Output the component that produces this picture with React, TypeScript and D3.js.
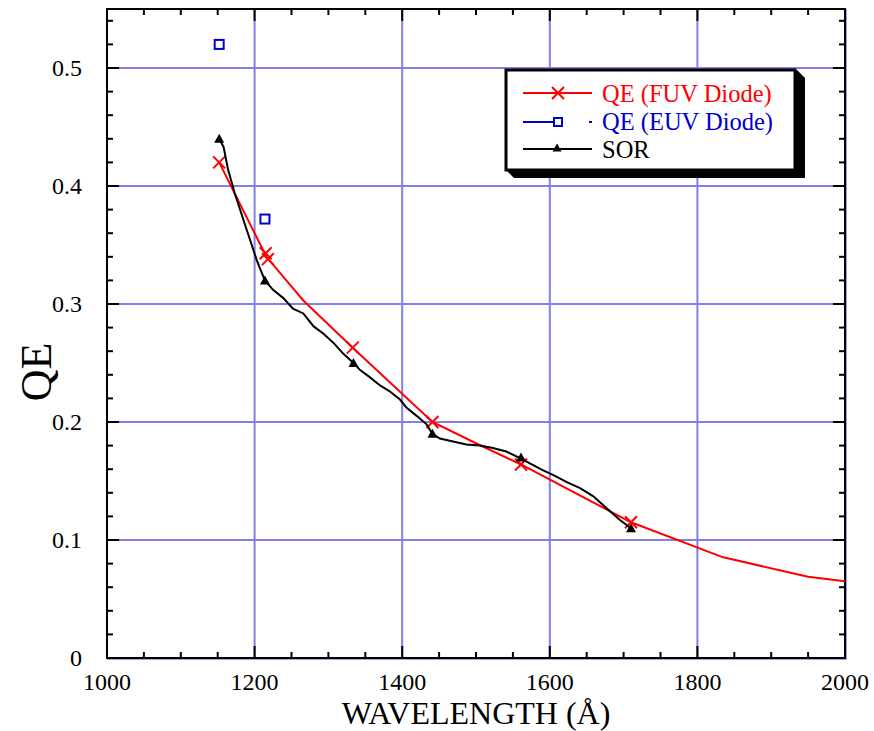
import React from 'react';
import * as d3 from 'd3';

// FUV diode markers
const fuvX = [1152, 1215, 1218, 1333, 1441, 1561, 1710];
const fuvY = [0.42, 0.343, 0.338, 0.263, 0.2, 0.164, 0.115];
// FUV diode curve
const fuvLineX = [1152, 1216, 1266, 1333, 1441, 1500, 1561, 1710, 1835, 1950, 2000];
const fuvLineY = [0.42, 0.34, 0.303, 0.263, 0.2, 0.182, 0.164, 0.115, 0.0853, 0.0689, 0.065];
// EUV diode points
const euvX = [1152, 1214];
const euvY = [0.52, 0.372];
// SOR curve
const sorX = [1152, 1158, 1164, 1173, 1185, 1194, 1203, 1210, 1214, 1225, 1239, 1252, 1266, 1280, 1293, 1307, 1320, 1334, 1343, 1356, 1370, 1383, 1397, 1406, 1420, 1433, 1441, 1451, 1469, 1487, 1505, 1523, 1541, 1561, 1573, 1591, 1605, 1623, 1641, 1659, 1677, 1695, 1710];
const sorY = [0.44, 0.433, 0.414, 0.394, 0.371, 0.354, 0.337, 0.326, 0.32, 0.312, 0.305, 0.296, 0.292, 0.281, 0.275, 0.267, 0.258, 0.25, 0.244, 0.238, 0.231, 0.226, 0.219, 0.212, 0.205, 0.198, 0.19, 0.186, 0.1835, 0.181, 0.18, 0.178, 0.175, 0.169, 0.165, 0.159, 0.155, 0.149, 0.144, 0.137, 0.127, 0.117, 0.11];
// SOR markers
const sorMarkX = [1152, 1214, 1334, 1441, 1561, 1710];
const sorMarkY = [0.44, 0.32, 0.25, 0.19, 0.17, 0.11];

const xTicks = [1000, 1200, 1400, 1600, 1800, 2000];
const yTicks = [0, 0.1, 0.2, 0.3, 0.4, 0.5];

const FONT = '"Liberation Serif", "Times New Roman", serif';
const GRID = '#8080e6';

export default function App() {
  const W = 874, H = 731;
  const left = 107, right = 845, top = 9, bottom = 658;

  const x = d3.scaleLinear().domain([1000, 2000]).range([left, right]);
  const y = d3.scaleLinear().domain([0, 0.55]).range([bottom, top]);

  const line = d3.line<[number, number]>().x(d => x(d[0])).y(d => y(d[1]));
  const fuvPath = line(fuvLineX.map((v, i) => [v, fuvLineY[i]]));
  const sorPath = line(sorX.map((v, i) => [v, sorY[i]]));

  const xMinor = d3.range(1050, 2000, 50).filter(v => v % 200 !== 0);
  const yMinor = d3.range(0.02, 0.55, 0.02).filter(v => Math.abs(v * 10 - Math.round(v * 10)) > 0.01);

  const cross = (cx: number, cy: number, s: number) =>
    `M${cx - s},${cy - s}L${cx + s},${cy + s}M${cx - s},${cy + s}L${cx + s},${cy - s}`;
  const tri = (cx: number, cy: number, s: number) =>
    `M${cx},${cy - s}L${cx + s},${cy + s * 0.8}L${cx - s},${cy + s * 0.8}Z`;

  // legend box
  const lx = 506, ly = 70, lw = 289, lh = 100;

  return (
    <div style={{ position: 'absolute', left: 0, top: 0 }}>
      <svg width={W} height={H} style={{ display: 'block', background: '#fff' }}>
        {/* grid */}
        {xTicks.map(t => (
          <line key={'gx' + t} x1={x(t)} x2={x(t)} y1={top} y2={bottom + 1} stroke={GRID} strokeWidth={2} />
        ))}
        {yTicks.map(t => (
          <line key={'gy' + t} x1={left} x2={right + 1} y1={y(t)} y2={y(t)} stroke={GRID} strokeWidth={2} />
        ))}
        <line x1={left} x2={right + 2} y1={bottom + 1} y2={bottom + 1} stroke={GRID} strokeWidth={1.5} />
        <line x1={right + 1} x2={right + 1} y1={top} y2={bottom + 1} stroke={GRID} strokeWidth={1.5} />

        {/* frame */}
        <rect x={left} y={top} width={right - left} height={bottom - top} fill="none" stroke="#000" strokeWidth={2} />

        {/* ticks */}
        {xTicks.map(t => (
          <g key={'tx' + t}>
            <line x1={x(t)} x2={x(t)} y1={bottom} y2={bottom - 12} stroke="#000" strokeWidth={2} />
            <line x1={x(t)} x2={x(t)} y1={top} y2={top + 12} stroke="#000" strokeWidth={2} />
          </g>
        ))}
        {xMinor.map(t => (
          <g key={'mx' + t}>
            <line x1={x(t)} x2={x(t)} y1={bottom} y2={bottom - 6} stroke="#000" strokeWidth={2} />
            <line x1={x(t)} x2={x(t)} y1={top} y2={top + 6} stroke="#000" strokeWidth={2} />
          </g>
        ))}
        {yTicks.map(t => (
          <g key={'ty' + t}>
            <line x1={left} x2={left + 12} y1={y(t)} y2={y(t)} stroke="#000" strokeWidth={2} />
            <line x1={right} x2={right - 12} y1={y(t)} y2={y(t)} stroke="#000" strokeWidth={2} />
          </g>
        ))}
        {yMinor.map(t => (
          <g key={'my' + t}>
            <line x1={left} x2={left + 6} y1={y(t)} y2={y(t)} stroke="#000" strokeWidth={2} />
            <line x1={right} x2={right - 6} y1={y(t)} y2={y(t)} stroke="#000" strokeWidth={2} />
          </g>
        ))}

        {/* tick labels */}
        {xTicks.map(t => (
          <text key={'lx' + t} x={x(t)} y={690} textAnchor="middle" fontFamily={FONT} fontSize={24}>{t}</text>
        ))}
        {yTicks.map(t => (
          <text key={'ly' + t} x={82} y={y(t) + 8} textAnchor="end" fontFamily={FONT} fontSize={24}>{t === 0 ? '0' : d3.format('.1f')(t)}</text>
        ))}

        {/* axis titles */}
        <text x={476} y={724} textAnchor="middle" fontFamily={FONT} fontSize={32}>WAVELENGTH (Å)</text>
        <text transform={`translate(51,372) rotate(-90)`} textAnchor="middle" fontFamily={FONT} fontSize={44}>QE</text>

        {/* FUV */}
        <path d={fuvPath || ''} fill="none" stroke="#ff0000" strokeWidth={2} />
        {fuvX.map((v, i) => (
          <path key={'fm' + i} d={cross(x(v), y(fuvY[i]), 6)} stroke="#ff0000" strokeWidth={2} fill="none" />
        ))}

        {/* SOR */}
        <path d={sorPath || ''} fill="none" stroke="#000" strokeWidth={2} />
        {sorMarkX.map((v, i) => (
          <path key={'sm' + i} d={tri(x(v), y(sorMarkY[i]), 5)} fill="#000" />
        ))}

        {/* EUV */}
        {euvX.map((v, i) => (
          <rect key={'em' + i} x={x(v) - 4.5} y={y(euvY[i]) - 4.5} width={9} height={9} fill="none" stroke="#0000cc" strokeWidth={2} />
        ))}

        {/* legend */}
        <polygon points={`${lx + lw},${ly} ${lx + lw + 2},${ly} ${lx + lw + 10},${ly + 8} ${lx + lw + 10},${ly + lh + 8} ${lx + 8},${ly + lh + 8} ${lx},${ly + lh}`} fill="#000" />
        <rect x={lx} y={ly} width={lw} height={lh} fill="#fff" stroke="#000" strokeWidth={3} />
        <line x1={523} x2={592} y1={93} y2={93} stroke="#ff0000" strokeWidth={2} />
        <path d={cross(558, 93, 6)} stroke="#ff0000" strokeWidth={2} fill="none" />
        <text x={602} y={102} fontFamily={FONT} fontSize={24.5} fill="#ff0000">QE (FUV Diode)</text>
        <line x1={523} x2={554} y1={122} y2={122} stroke="#0000cc" strokeWidth={2} />
        <rect x={554} y={118} width={8} height={8} fill="none" stroke="#0000cc" strokeWidth={2} />
        <line x1={589} x2={592} y1={122} y2={122} stroke="#0000cc" strokeWidth={2} />
        <text x={602} y={130} fontFamily={FONT} fontSize={24.5} fill="#0000cc">QE (EUV Diode)</text>
        <line x1={523} x2={592} y1={149} y2={149} stroke="#000" strokeWidth={2} />
        <path d={tri(557, 148, 4.5)} fill="#000" />
        <text x={602} y={158} fontFamily={FONT} fontSize={24.5} fill="#000">SOR</text>
      </svg>
    </div>
  );
}
